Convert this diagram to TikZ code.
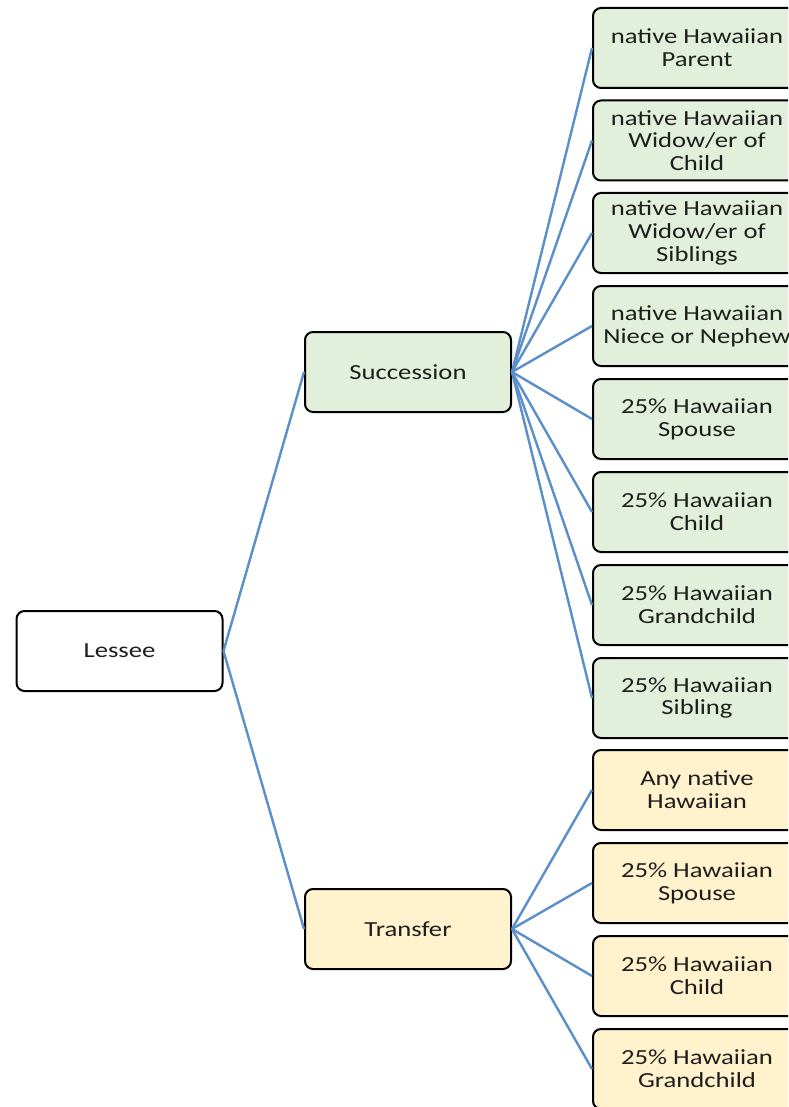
\documentclass[tikz,border=0pt]{standalone}
\usepackage{fontspec}
\setmainfont{Carlito}[FakeStretch=1.24]
\definecolor{linkblue}{HTML}{5A8FC9}
\definecolor{greenfill}{HTML}{E2EFDA}
\definecolor{goldfill}{HTML}{FFF2CC}
\definecolor{txt}{HTML}{1E1E1E}
\tikzset{
  box/.style={draw=black, line width=2pt, rounded corners=8pt, minimum width=206pt, minimum height=80pt,
    inner sep=0pt, align=center, text=txt, font=\fontsize{21.5}{22.8}\selectfont},
  whitebox/.style={box, fill=white},
  greenbox/.style={box, fill=greenfill},
  goldbox/.style={box, fill=goldfill, minimum width=208pt},
  leafg/.style={greenbox, minimum width=208pt},
  link/.style={draw=linkblue, line width=2.4pt}
}
\begin{document}
\begin{tikzpicture}[x=1pt,y=-1pt]
\clip (0,0) rectangle (788,1107);
\fill[white] (0,0) rectangle (788,1107);
\node[whitebox] (lessee) at (119.5,651) {Lessee};
\node[greenbox] (succ) at (408,372) {Succession};
\node[goldbox, minimum width=206pt] (trans) at (408,929) {Transfer};
\node[leafg] (s1) at (697,48) {native Hawaiian\\Parent};
\node[leafg] (s2) at (697,140.5) {native Hawaiian\\Widow/er of\\Child};
\node[leafg] (s3) at (697,233) {native Hawaiian\\Widow/er of\\Siblings};
\node[leafg] (s4) at (697,326) {native Hawaiian\\Niece or Nephew};
\node[leafg] (s5) at (697,419) {25\% Hawaiian\\Spouse};
\node[leafg] (s6) at (697,512) {25\% Hawaiian\\Child};
\node[leafg] (s7) at (697,605) {25\% Hawaiian\\Grandchild};
\node[leafg] (s8) at (697,698) {25\% Hawaiian\\Sibling};
\node[goldbox] (t1) at (697,790) {Any native\\Hawaiian};
\node[goldbox] (t2) at (697,883) {25\% Hawaiian\\Spouse};
\node[goldbox] (t3) at (697,976) {25\% Hawaiian\\Child};
\node[goldbox] (t4) at (697,1069) {25\% Hawaiian\\Grandchild};
\path[link] (lessee.east) -- (succ.west);
\path[link] (lessee.east) -- (trans.west);
\foreach \n in {s1,s2,s3,s4,s5,s6,s7,s8} {
  \path[link] (succ.east) -- (\n.west);
}
\foreach \n in {t1,t2,t3,t4} {
  \path[link] (trans.east) -- (\n.west);
}
\end{tikzpicture}
\end{document}
